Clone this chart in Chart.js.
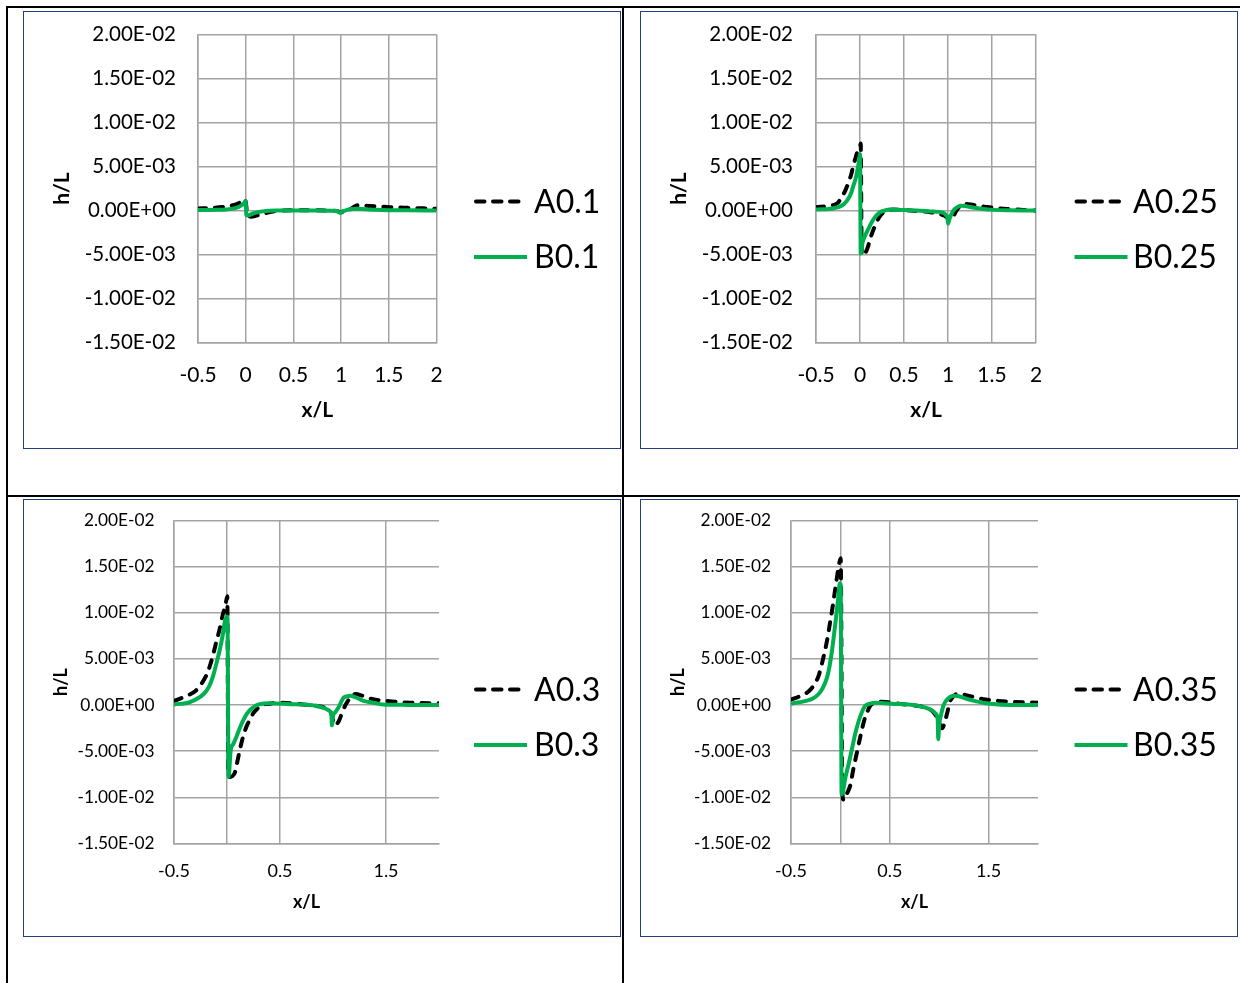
<!DOCTYPE html>
<html>
<head>
<meta charset="utf-8">
<title>h/L profiles</title>
<script src="https://cdn.jsdelivr.net/npm/chart.js@4.4.1/dist/chart.umd.min.js"></script>
<style>
  html, body { margin: 0; padding: 0; background: #fff; }
  #page { position: relative; width: 1240px; height: 983px; overflow: hidden; background: #fff; }
  .rule { position: absolute; background: #000; }
  .frame { position: absolute; box-sizing: border-box; border: 1.5px solid #24407a; }
  canvas.plot { position: absolute; }
</style>
</head>
<body>
<div id="page">
  <div class="rule" style="left:6px;top:6px;width:1234px;height:2px"></div>
  <div class="rule" style="left:6px;top:495px;width:1234px;height:2px"></div>
  <div class="rule" style="left:6px;top:6px;width:2px;height:977px"></div>
  <div class="rule" style="left:622px;top:6px;width:2px;height:977px"></div>

  <div class="frame" style="left:23px;top:11px;width:598px;height:438px"></div>
  <div class="frame" style="left:640px;top:11px;width:598px;height:438px"></div>
  <div class="frame" style="left:23px;top:499px;width:598px;height:438px"></div>
  <div class="frame" style="left:640px;top:499px;width:598px;height:438px"></div>

  <canvas class="plot" id="p010" width="598" height="438" style="left:23px;top:11px"></canvas>
  <canvas class="plot" id="p025" width="598" height="438" style="left:640px;top:11px"></canvas>
  <canvas class="plot" id="p030" width="598" height="438" style="left:23px;top:499px"></canvas>
  <canvas class="plot" id="p035" width="598" height="438" style="left:640px;top:499px"></canvas>
</div>

<script>
// ---- tick values ----
const xTicksFine   = [-0.5, 0, 0.5, 1, 1.5, 2];
const xTicksCoarse = [-0.5, 0, 0.5, 1.5];
const yTicks = [-0.015, -0.01, -0.005, 0, 0.005, 0.01, 0.015, 0.02];

// ---- series labels ----
const labels010 = ['A0.1', 'B0.1'];
const labels025 = ['A0.25', 'B0.25'];
const labels030 = ['A0.3', 'B0.3'];
const labels035 = ['A0.35', 'B0.35'];

// ---- A0.1 / B0.1 ----
const xA010 = [-0.5, -0.35, -0.24, -0.15, -0.1, -0.06, -0.03, -0.012, 0.0, 0.02, 0.06, 0.11, 0.16, 0.22, 0.3, 0.36, 0.5, 0.7, 0.9, 0.97, 1.0, 1.04, 1.09, 1.14, 1.18, 1.24, 1.3, 1.4, 1.5, 1.7, 1.85, 2.0];
const hA010 = [0.23e-3, 0.3e-3, 0.4e-3, 0.55e-3, 0.7e-3, 0.9e-3, 1.15e-3, 1.3e-3, 1.0e-3, -0.6e-3, -0.7e-3, -0.57e-3, -0.45e-3, -0.27e-3, -0.1e-3, 0.0, 0.02e-3, 0.02e-3, 0.0, -0.1e-3, -0.2e-3, -0.1e-3, 0.1e-3, 0.45e-3, 0.6e-3, 0.55e-3, 0.5e-3, 0.45e-3, 0.38e-3, 0.3e-3, 0.25e-3, 0.2e-3];
const xB010 = [-0.5, -0.3, -0.2, -0.1, -0.05, -0.02, 0.0, 0.006, 0.02, 0.077, 0.13, 0.18, 0.25, 0.32, 0.5, 0.7, 0.9, 0.96, 0.99, 1.01, 1.04, 1.07, 1.12, 1.16, 1.25, 1.37, 1.5, 1.7, 2.0];
const hB010 = [0.05e-3, 0.08e-3, 0.12e-3, 0.3e-3, 0.55e-3, 0.8e-3, 1.05e-3, -0.5e-3, -0.57e-3, -0.34e-3, -0.2e-3, -0.1e-3, -0.03e-3, 0.0, 0.0, 0.0, -0.02e-3, -0.08e-3, -0.27e-3, -0.12e-3, -0.02e-3, 0.1e-3, 0.18e-3, 0.2e-3, 0.15e-3, 0.08e-3, 0.04e-3, 0.02e-3, 0.0];

// ---- A0.25 / B0.25 ----
const xA025 = [-0.5, -0.34, -0.25, -0.21, -0.17, -0.13, -0.1, -0.076, -0.05, -0.02, 0.0, 0.008, 0.02, 0.04, 0.076, 0.1, 0.13, 0.16, 0.19, 0.23, 0.265, 0.3, 0.38, 0.5, 0.64, 0.8, 0.9, 0.96, 1.0, 1.02, 1.04, 1.06, 1.08, 1.11, 1.15, 1.21, 1.28, 1.36, 1.45, 1.55, 1.7, 1.85, 2.0];
const hA025 = [0.38e-3, 0.55e-3, 0.9e-3, 1.5e-3, 2.2e-3, 3.2e-3, 4.1e-3, 5.1e-3, 6.0e-3, 7.0e-3, 7.3e-3, 7.6e-3, -5.0e-3, -5.1e-3, -4.5e-3, -3.8e-3, -2.8e-3, -2.0e-3, -1.3e-3, -0.6e-3, -0.25e-3, -0.05e-3, 0.1e-3, 0.05e-3, -0.05e-3, -0.2e-3, -0.4e-3, -0.6e-3, -0.85e-3, -0.95e-3, -1.0e-3, -0.75e-3, -0.3e-3, 0.2e-3, 0.55e-3, 0.75e-3, 0.65e-3, 0.5e-3, 0.4e-3, 0.26e-3, 0.15e-3, 0.07e-3, 0.0];
const xB025 = [-0.5, -0.3, -0.2, -0.15, -0.1, -0.076, -0.05, -0.027, -0.01, 0.0, 0.008, 0.03, 0.06, 0.095, 0.13, 0.17, 0.21, 0.246, 0.3, 0.34, 0.5, 0.64, 0.8, 0.94, 0.98, 0.995, 1.0, 1.02, 1.04, 1.07, 1.1, 1.14, 1.2, 1.25, 1.35, 1.48, 1.7, 2.0];
const hB025 = [0.1e-3, 0.26e-3, 0.6e-3, 1.1e-3, 2.0e-3, 2.8e-3, 3.6e-3, 4.7e-3, 5.7e-3, 6.4e-3, -4.9e-3, -3.6e-3, -2.8e-3, -2.1e-3, -1.4e-3, -0.75e-3, -0.35e-3, -0.1e-3, 0.05e-3, 0.1e-3, 0.05e-3, 0.0, -0.1e-3, -0.25e-3, -0.55e-3, -0.9e-3, -1.5e-3, -0.85e-3, -0.4e-3, 0.1e-3, 0.35e-3, 0.55e-3, 0.5e-3, 0.4e-3, 0.25e-3, 0.1e-3, 0.03e-3, 0.0];

// ---- A0.3 / B0.3 ----
const xA030 = [-0.5, -0.38, -0.3, -0.255, -0.2, -0.16, -0.13, -0.1, -0.07, -0.04, -0.015, 0.003, 0.012, 0.03, 0.05, 0.075, 0.1, 0.12, 0.15, 0.185, 0.22, 0.25, 0.29, 0.33, 0.4, 0.47, 0.6, 0.72, 0.85, 0.94, 0.98, 1.0, 1.02, 1.04, 1.06, 1.09, 1.13, 1.17, 1.21, 1.28, 1.35, 1.5, 1.73, 2.0];
const hA030 = [0.45e-3, 1.0e-3, 1.5e-3, 2.1e-3, 3.1e-3, 4.3e-3, 5.5e-3, 6.9e-3, 8.2e-3, 9.8e-3, 10.8e-3, 11.8e-3, -7.0e-3, -7.8e-3, -7.7e-3, -7.3e-3, -6.0e-3, -4.9e-3, -3.5e-3, -2.3e-3, -1.5e-3, -0.85e-3, -0.35e-3, 0.0, 0.15e-3, 0.25e-3, 0.2e-3, 0.07e-3, -0.1e-3, -0.4e-3, -0.8e-3, -1.6e-3, -2.2e-3, -2.0e-3, -1.6e-3, -0.7e-3, 0.25e-3, 0.9e-3, 1.2e-3, 1.0e-3, 0.7e-3, 0.45e-3, 0.25e-3, 0.2e-3];
const xB030 = [-0.5, -0.35, -0.22, -0.17, -0.13, -0.1, -0.066, -0.04, -0.02, -0.005, 0.004, 0.015, 0.035, 0.06, 0.09, 0.12, 0.155, 0.19, 0.22, 0.26, 0.3, 0.41, 0.6, 0.72, 0.85, 0.91, 0.95, 0.97, 0.985, 0.99, 1.0, 1.02, 1.05, 1.08, 1.1, 1.13, 1.16, 1.22, 1.29, 1.38, 1.47, 1.7, 2.0];
const hB030 = [0.07e-3, 0.33e-3, 1.2e-3, 2.0e-3, 3.2e-3, 4.5e-3, 6.1e-3, 7.6e-3, 9.1e-3, 9.5e-3, 9.6e-3, -7.8e-3, -4.9e-3, -4.2e-3, -3.4e-3, -2.5e-3, -1.6e-3, -0.9e-3, -0.5e-3, -0.15e-3, 0.07e-3, 0.2e-3, 0.1e-3, 0.05e-3, -0.1e-3, -0.3e-3, -0.5e-3, -0.65e-3, -1.0e-3, -2.2e-3, -1.2e-3, -0.8e-3, -0.3e-3, 0.4e-3, 0.8e-3, 0.95e-3, 1.0e-3, 0.8e-3, 0.45e-3, 0.25e-3, 0.07e-3, 0.02e-3, 0.0];

// ---- A0.35 / B0.35 ----
const xA035 = [-0.5, -0.4, -0.32, -0.26, -0.22, -0.18, -0.135, -0.11, -0.085, -0.06, -0.034, -0.015, 0.003, 0.02, 0.034, 0.05, 0.07, 0.1, 0.13, 0.17, 0.2, 0.24, 0.27, 0.3, 0.35, 0.42, 0.5, 0.59, 0.7, 0.79, 0.87, 0.93, 0.97, 1.0, 1.03, 1.06, 1.08, 1.11, 1.14, 1.18, 1.24, 1.3, 1.38, 1.47, 1.6, 1.74, 2.0];
const hA035 = [0.6e-3, 1.0e-3, 1.5e-3, 2.3e-3, 3.2e-3, 4.8e-3, 7.0e-3, 8.6e-3, 10.2e-3, 12.0e-3, 13.9e-3, 15.2e-3, 15.9e-3, -9.5e-3, -10.3e-3, -10.0e-3, -9.5e-3, -8.7e-3, -7.0e-3, -5.0e-3, -3.5e-3, -1.7e-3, -0.8e-3, -0.1e-3, 0.25e-3, 0.35e-3, 0.3e-3, 0.15e-3, 0.0, -0.1e-3, -0.3e-3, -0.65e-3, -1.2e-3, -1.9e-3, -2.5e-3, -1.7e-3, -0.9e-3, 0.4e-3, 0.9e-3, 1.2e-3, 1.15e-3, 1.0e-3, 0.8e-3, 0.6e-3, 0.45e-3, 0.35e-3, 0.25e-3];
const xB035 = [-0.5, -0.35, -0.28, -0.22, -0.18, -0.135, -0.11, -0.085, -0.065, -0.044, -0.025, -0.005, 0.003, 0.012, 0.025, 0.05, 0.085, 0.118, 0.15, 0.186, 0.22, 0.25, 0.3, 0.355, 0.52, 0.79, 0.93, 0.97, 0.985, 0.99, 1.0, 1.02, 1.045, 1.09, 1.16, 1.3, 1.47, 1.81, 2.0];
const hB035 = [0.15e-3, 0.45e-3, 0.7e-3, 1.2e-3, 1.8e-3, 3.0e-3, 4.2e-3, 5.9e-3, 7.6e-3, 9.5e-3, 11.3e-3, 13.2e-3, 13.0e-3, -9.7e-3, -9.4e-3, -7.9e-3, -6.3e-3, -4.7e-3, -3.1e-3, -1.7e-3, -0.7e-3, -0.1e-3, 0.15e-3, 0.25e-3, 0.15e-3, -0.1e-3, -0.6e-3, -1.0e-3, -1.6e-3, -3.7e-3, -2.1e-3, -1.0e-3, 0.0, 0.7e-3, 1.0e-3, 0.6e-3, 0.2e-3, 0.0, 0.0];

// ---- helpers ----
const FONT = "Lato, 'Open Sans', sans-serif";
const GRID = '#a3a3a3';
const GREEN = '#00b050';
const CW = 598, CH = 438;

function toPoints(xs, hs) {
  return xs.map((x, i) => ({ x: x, y: hs[i] }));
}

// Spreadsheet-style scientific notation, e.g. 5.00E-03
function sciLabel(v) {
  if (Math.abs(v) < 1e-12) return '0.00E+00';
  const parts = v.toExponential(2).split('e');
  const n = parseInt(parts[1], 10);
  return parts[0] + 'E' + (n < 0 ? '-' : '+') + String(Math.abs(n)).padStart(2, '0');
}

// Legend drawn to the right of the plot: line sample + series name
const sideLegend = {
  id: 'sideLegend',
  afterDraw(chart, args, opts) {
    const ctx = chart.ctx;
    ctx.save();
    chart.data.datasets.forEach((ds, i) => {
      const y = opts.lineY[i];
      const dashed = ds.borderDash && ds.borderDash.length;
      ctx.beginPath();
      ctx.setLineDash(dashed ? [8.5, 8.5] : []);
      ctx.lineCap = dashed ? 'round' : 'butt';
      ctx.lineWidth = 4;
      ctx.strokeStyle = ds.borderColor;
      ctx.moveTo(opts.x0 + (dashed ? 2 : 0), y);
      ctx.lineTo(opts.x1, y);
      ctx.stroke();
      ctx.setLineDash([]);
      ctx.font = opts.fontSize + 'px ' + FONT;
      ctx.fillStyle = '#000';
      ctx.textAlign = 'left';
      ctx.textBaseline = 'alphabetic';
      ctx.fillText(ds.label, opts.textX, opts.textY[i]);
    });
    ctx.restore();
  }
};

function makeChart(id, cfg) {
  const a = cfg.area;
  return new Chart(document.getElementById(id), {
    type: 'scatter',
    data: {
      datasets: [
        {
          label: cfg.labels[0],
          data: toPoints(cfg.xA, cfg.hA),
          showLine: true,
          borderColor: '#000',
          backgroundColor: '#000',
          borderWidth: 4,
          borderDash: [8, 9],
          borderCapStyle: 'round',
          pointRadius: 0,
          cubicInterpolationMode: 'monotone',
          order: 1
        },
        {
          label: cfg.labels[1],
          data: toPoints(cfg.xB, cfg.hB),
          showLine: true,
          borderColor: GREEN,
          backgroundColor: GREEN,
          borderWidth: 4,
          pointRadius: 0,
          cubicInterpolationMode: 'monotone',
          order: 0
        }
      ]
    },
    options: {
      responsive: false,
      animation: false,
      events: [],
      devicePixelRatio: 1,
      layout: { padding: { left: 0, top: a.t, right: CW - a.r, bottom: 0 } },
      plugins: {
        legend: { display: false },
        tooltip: { enabled: false },
        sideLegend: cfg.legend
      },
      scales: {
        x: {
          type: 'linear',
          min: -0.5,
          max: 2,
          afterBuildTicks: s => { s.ticks = cfg.xTicks.map(v => ({ value: v })); },
          afterFit: s => { s.height = CH - a.b; },
          grid: { color: GRID, lineWidth: 1.5, drawTicks: false },
          border: { color: GRID, width: 1.5 },
          ticks: {
            autoSkip: false,
            maxRotation: 0,
            padding: cfg.xTickPad,
            color: '#000',
            font: { family: FONT, size: cfg.xTickSize },
            callback: v => (cfg.hideZero && v === 0) ? '' : String(v)
          },
          title: {
            display: true,
            text: 'x/L',
            color: '#000',
            font: { family: FONT, size: cfg.titleSize, weight: 'bold' },
            padding: { top: 0, bottom: cfg.xTitlePad }
          }
        },
        y: {
          type: 'linear',
          min: -0.015,
          max: 0.02,
          afterBuildTicks: s => { s.ticks = yTicks.map(v => ({ value: v })); },
          // fixed axis width; the layout padding already leaves room for the end labels
          afterFit: s => { s.width = a.l; s.paddingTop = 0; s.paddingBottom = 0; },
          grid: { color: GRID, lineWidth: 1.5, drawTicks: false },
          border: { color: GRID, width: 1.5 },
          ticks: {
            padding: cfg.yTickPad,
            color: '#000',
            font: { family: FONT, size: cfg.yTickSize },
            callback: v => sciLabel(v)
          },
          title: {
            display: true,
            text: 'h/L',
            color: '#000',
            font: { family: FONT, size: cfg.titleSize, weight: 'bold' },
            padding: { top: cfg.yTitlePad, bottom: 0 }
          }
        }
      }
    },
    plugins: [sideLegend]
  });
}

const legendLeftSet  = { x0: 451, x1: 504, textX: 511, lineY: [190.5, 246], textY: [202, 257], fontSize: 32 };
const legendRightSet = { x0: 434.5, x1: 487.5, textX: 493, lineY: [190.5, 246], textY: [202, 257], fontSize: 32 };

makeChart('p010', {
  labels: labels010, xA: xA010, hA: hA010, xB: xB010, hB: hB010,
  xTicks: xTicksFine, hideZero: false,
  area: { l: 175, r: 413.5, t: 23.5, b: 331.5 },
  xTickSize: 21, yTickSize: 20.5, titleSize: 21,
  xTickPad: 20, yTickPad: 22, xTitlePad: 25.7, yTitlePad: 26.4,
  legend: legendLeftSet
});
makeChart('p025', {
  labels: labels025, xA: xA025, hA: hA025, xB: xB025, hB: hB025,
  xTicks: xTicksFine, hideZero: false,
  area: { l: 176, r: 396, t: 23.5, b: 331.5 },
  xTickSize: 21, yTickSize: 20.5, titleSize: 21,
  xTickPad: 20, yTickPad: 23, xTitlePad: 25.7, yTitlePad: 26.4,
  legend: legendRightSet
});
makeChart('p030', {
  labels: labels030, xA: xA030, hA: hA030, xB: xB030, hB: hB030,
  xTicks: xTicksCoarse, hideZero: true,
  area: { l: 151, r: 416, t: 21.5, b: 344.5 },
  xTickSize: 18, yTickSize: 17.3, titleSize: 18,
  xTickPad: 17, yTickPad: 19.5, xTitlePad: 24.5, yTitlePad: 27.7,
  legend: legendLeftSet
});
makeChart('p035', {
  labels: labels035, xA: xA035, hA: hA035, xB: xB035, hB: hB035,
  xTicks: xTicksCoarse, hideZero: true,
  area: { l: 151, r: 398, t: 21.5, b: 344.5 },
  xTickSize: 18, yTickSize: 17.3, titleSize: 18,
  xTickPad: 17, yTickPad: 20, xTitlePad: 24.5, yTitlePad: 27.7,
  legend: legendRightSet
});
</script>
</body>
</html>
